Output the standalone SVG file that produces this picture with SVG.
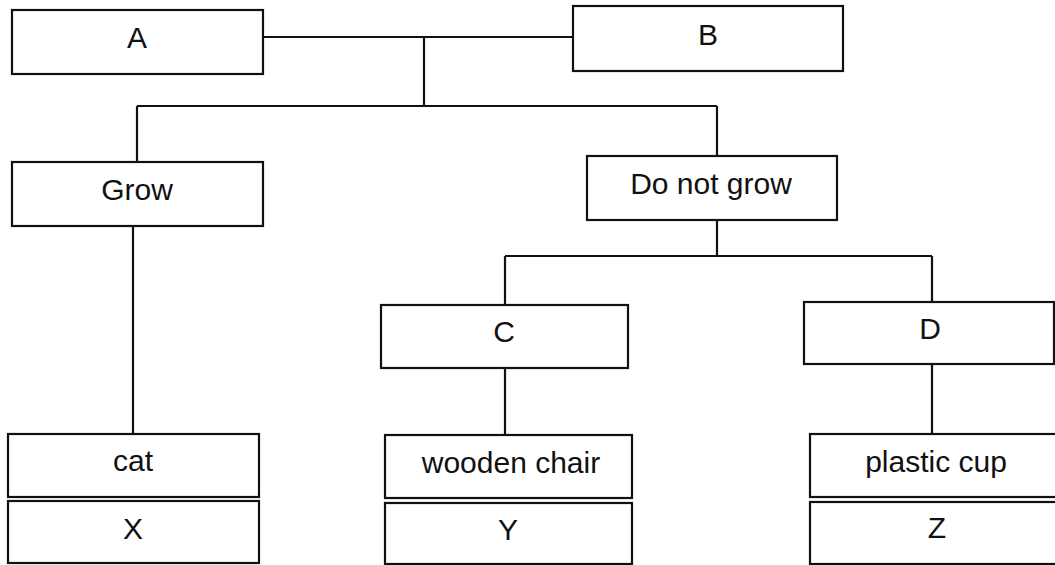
<svg xmlns="http://www.w3.org/2000/svg" width="1055" height="565" viewBox="0 0 1055 565">
<style>
.box{fill:#fff;stroke:#111;stroke-width:2.2}
.lbl{font-family:"Liberation Sans",Arial,sans-serif;font-size:30px;fill:#111;text-anchor:middle}
.con{fill:none;stroke:#111;stroke-width:2.2}
</style>
<rect width="1055" height="565" fill="#fff"/>
<g id="connectors" class="con">
<path d="M263,37 H573"/>
<path d="M424,37 V106"/>
<path d="M137,106 H717"/>
<path d="M137,106 V162"/>
<path d="M717,106 V156"/>
<path d="M133,226 V434"/>
<path d="M717,220 V256"/>
<path d="M505,256 H932"/>
<path d="M505,256 V305"/>
<path d="M932,256 V302"/>
<path d="M505,368 V435"/>
<path d="M932,363 V434"/>
</g>
<g id="nodeA"><rect class="box" x="12" y="10" width="251" height="64"/><text class="lbl" x="137" y="48">A</text></g>
<g id="nodeB"><rect class="box" x="573" y="6" width="270" height="65"/><text class="lbl" x="708" y="45">B</text></g>
<g id="nodeGrow"><rect class="box" x="12" y="162" width="251" height="64"/><text class="lbl" x="137" y="200">Grow</text></g>
<g id="nodeDoNotGrow"><rect class="box" x="587" y="156" width="250" height="64"/><text class="lbl" x="711" y="194">Do not grow</text></g>
<g id="nodeC"><rect class="box" x="381" y="305" width="247" height="63"/><text class="lbl" x="504" y="342">C</text></g>
<g id="nodeD"><rect class="box" x="804" y="302" width="250" height="62"/><text class="lbl" x="930" y="339">D</text></g>
<g id="nodeCat"><rect class="box" x="8" y="434" width="251" height="63"/><text class="lbl" x="133" y="471">cat</text></g>
<g id="nodeX"><rect class="box" x="8" y="501" width="251" height="62"/><text class="lbl" x="133" y="539">X</text></g>
<g id="nodeWoodenChair"><rect class="box" x="385" y="435" width="247" height="63"/><text class="lbl" x="511" y="473">wooden chair</text></g>
<g id="nodeY"><rect class="box" x="385" y="503" width="247" height="61"/><text class="lbl" x="508" y="540">Y</text></g>
<g id="nodePlasticCup"><rect class="box" x="810" y="434" width="252" height="63"/><text class="lbl" x="936" y="472">plastic cup</text></g>
<g id="nodeZ"><rect class="box" x="810" y="502" width="252" height="62"/><text class="lbl" x="937" y="538">Z</text></g>
</svg>
